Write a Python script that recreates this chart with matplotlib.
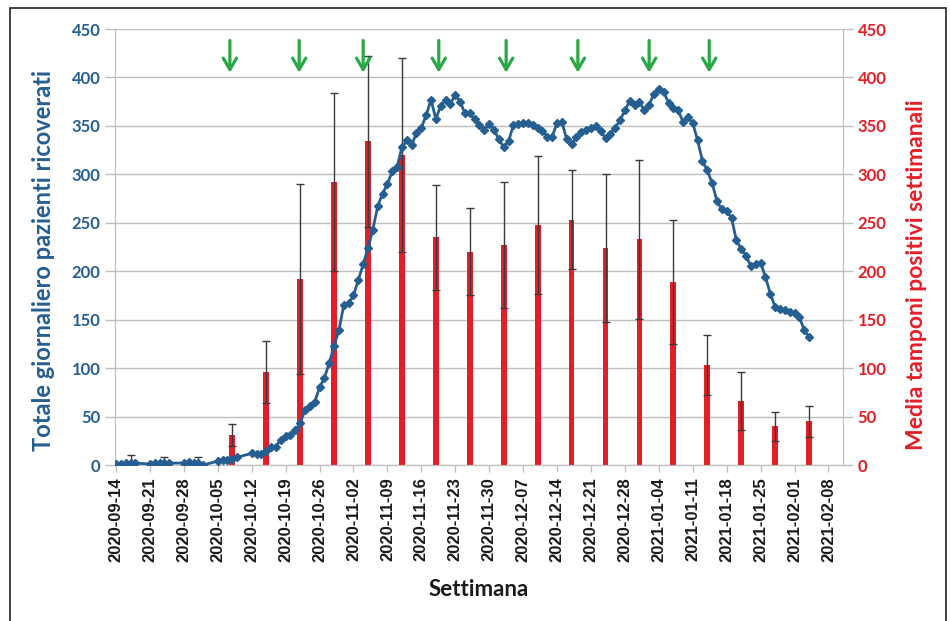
import numpy as np
import pandas as pd
import matplotlib
matplotlib.use("Agg")
import matplotlib.pyplot as plt
from matplotlib.patches import Rectangle

# giorni dal 2020-09-14 (prime settimane solo giorni feriali)
giorni = [0, 1, 2, 3, 4,
          7, 8, 9, 10, 11,
          14, 15, 16, 17, 18,
          21, 22, 23, 24, 25] + list(range(28, 144))
ricoverati = [1, 1, 2, 2, 2,
              1, 2, 2, 2, 2,
              2, 3, 2, 2, 0,
              4, 5, 5, 6, 8,
              12, 11, 11, 14, 19, 19, 26, 30, 31, 36,
              43, 57, 61, 65, 80, 90, 105, 123, 139, 165,
              167, 175, 191, 207, 224, 243, 267, 280, 290, 303,
              308, 328, 335, 330, 343, 348, 361, 377, 357, 371,
              377, 373, 382, 375, 363, 363, 357, 351, 346, 352,
              346, 336, 328, 334, 351, 352, 353, 353, 351, 348,
              345, 339, 339, 353, 354, 336, 331, 339, 344, 346,
              348, 350, 345, 337, 342, 348, 356, 366, 376, 372,
              375, 366, 372, 383, 388, 385, 374, 368, 366, 354,
              359, 353, 335, 314, 304, 291, 272, 264, 262, 255,
              232, 223, 216, 205, 207, 209, 194, 177, 163, 161,
              160, 158, 157, 153, 139, 132]

# media settimanale tamponi positivi (una barra per settimana)
media_positivi = [4, 3, 3, 31, 96, 192, 292, 334, 320, 235, 220,
                  227, 248, 253, 224, 233, 189, 103, 66, 40, 45]
errore = [6, 5, 5, 11, 32, 98, 92, 88, 100, 54, 45,
          65, 71, 51, 76, 82, 64, 31, 30, 15, 16]

# frecce verdi (giorni dal 2020-09-14)
frecce = [23.5, 37.8, 51, 66.6, 80.5, 95.3, 110, 122.4]

inizio = pd.Timestamp("2020-09-14")
date_ric = inizio + pd.to_timedelta(giorni, unit="D")
date_bar = pd.date_range("2020-09-17", periods=len(media_positivi), freq="7D")
tick_date = pd.date_range("2020-09-14", "2021-02-08", freq="7D")

blu = "#255e91"
rosso = "#e41e26"
verde = "#2aa845"
grigio = "#bfbfbf"

fig = plt.figure(figsize=(9.5, 6.21), dpi=100)
ax2 = fig.add_axes([115/950, 1-465/621, (843-115)/950, (465-29)/621])
ax1 = ax2.twinx()
ax1.set_zorder(ax2.get_zorder() + 1)
ax1.patch.set_visible(False)

# barre + errori
ax2.bar(date_bar, media_positivi, width=1.2, color=rosso, zorder=2)
ax2.errorbar(date_bar, media_positivi, yerr=errore, fmt="none",
             ecolor="#3a3a3a", elinewidth=1, capsize=3, capthick=1, zorder=3)

# linea ricoverati
ax1.plot(date_ric, ricoverati, color=blu, lw=2, marker="D", ms=4.2,
         mfc=blu, mec=blu, zorder=4)

for g in frecce:
    d = inizio + pd.Timedelta(days=g)
    ax1.annotate("", xy=(d, 402), xytext=(d, 441),
                 arrowprops=dict(arrowstyle="->,head_length=0.55,head_width=0.32",
                                 color=verde, lw=2.3, mutation_scale=15))

x0 = inizio - pd.Timedelta(days=0.2)
x1 = pd.Timestamp("2021-02-11")
for a in (ax1, ax2):
    a.set_xlim(x0, x1)
    a.set_ylim(0, 450)
    a.set_yticks(range(0, 451, 50))
    for s in a.spines.values():
        s.set_color(grigio)
    a.spines["top"].set_visible(False)

ax2.yaxis.grid(True, color=grigio, lw=1, zorder=0)
ax2.set_axisbelow(True)

# asse sinistro e destro: ax2 (barre) sta sotto, ma i valori sono a destra
ax2.yaxis.tick_right()
ax2.yaxis.set_label_position("right")
ax1.yaxis.tick_left()
ax1.yaxis.set_label_position("left")

ax1.tick_params(axis="y", colors=grigio, length=7, width=1)
ax2.tick_params(axis="y", colors=grigio, length=7, width=1)
for lab in ax1.get_yticklabels():
    lab.set_color(blu)
    lab.set_fontfamily("Lato")
    lab.set_fontweight("bold")
    lab.set_fontsize(12)
for lab in ax2.get_yticklabels():
    lab.set_color(rosso)
    lab.set_fontfamily("Lato")
    lab.set_fontweight("bold")
    lab.set_fontsize(12)

ax2.set_xticks(tick_date)
ax2.set_xticklabels([d.strftime("%Y-%m-%d") for d in tick_date], rotation=90,
                    fontfamily="Liberation Sans", fontweight="bold", fontsize=12)
ax2.tick_params(axis="x", colors=grigio, length=5, width=1, pad=4)
for lab in ax2.get_xticklabels():
    lab.set_color("#1a1a1a")
ax1.tick_params(axis="x", bottom=False, labelbottom=False)

ax1.set_ylabel("Totale giornaliero pazienti ricoverati", color=blu,
               fontfamily="Lato", fontweight="bold", fontsize=17)
ax1.yaxis.set_label_coords(-0.083, 0.47)
ax2.set_ylabel("Media tamponi positivi settimanali", color=rosso,
               fontfamily="Lato", fontweight="bold", fontsize=16.5)
ax2.yaxis.set_label_coords(1.086, 0.436)
ax2.set_xlabel("Settimana", color="#1a1a1a", fontfamily="Lato",
               fontweight="bold", fontsize=16, labelpad=12)

# cornice
fig.patches.append(Rectangle((10/950, -0.05), (946-10)/950, 1.05 - 8/621,
                             transform=fig.transFigure, fill=False,
                             edgecolor="#222222", lw=1.2))

fig.savefig("out.png", dpi=100)
